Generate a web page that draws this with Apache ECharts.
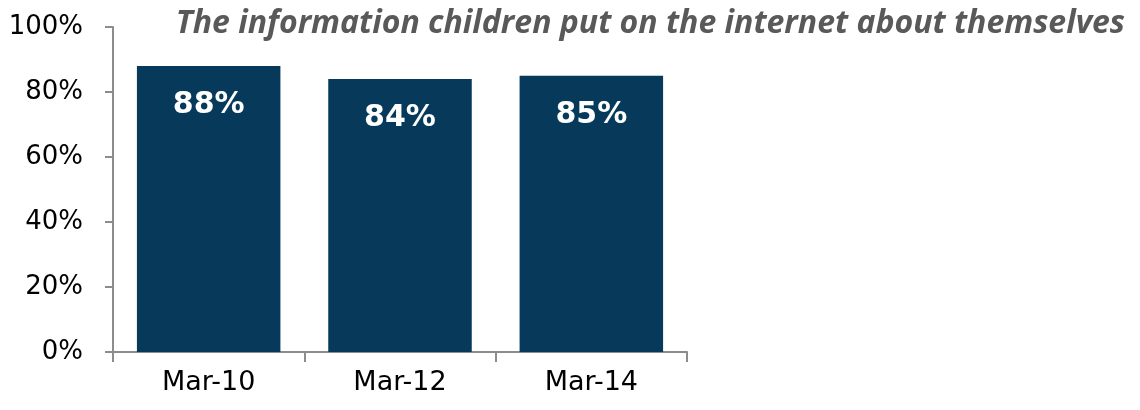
<!DOCTYPE html>
<html>
<head>
<meta charset="utf-8">
<script src="https://cdn.jsdelivr.net/npm/echarts@6/dist/echarts.min.js"></script>
<style>
  html, body { margin: 0; padding: 0; background: #fff; }
  #chart { width: 1140px; height: 410px; }
</style>
</head>
<body>
<div id="chart"></div>
<script>
var categories = ['Mar-10', 'Mar-12', 'Mar-14'];
var values = [88, 84, 85];
var titleText = 'The information children put on the internet about themselves';

var myChart = echarts.init(document.getElementById('chart'));

var option = {
    animation: false,
    title: {
        text: titleText,
        right: 10,
        top: 3,
        textStyle: {
            fontFamily: 'Open Sans',
            fontStyle: 'italic',
            fontWeight: 'bold',
            fontSize: 32,
            color: '#595959'
        }
    },
    grid: {
        left: 113,
        right: 453,
        top: 27,
        bottom: 58
    },
    xAxis: {
        type: 'category',
        data: categories,
        axisLine: { lineStyle: { color: '#8c8c8c', width: 2 } },
        axisTick: { show: true, length: 10, lineStyle: { color: '#8c8c8c', width: 2 } },
        axisLabel: {
            fontFamily: 'DejaVu Sans',
            fontSize: 27,
            color: '#000',
            margin: 17
        }
    },
    yAxis: {
        type: 'value',
        min: 0,
        max: 100,
        interval: 20,
        splitLine: { show: false },
        axisLine: { show: true, lineStyle: { color: '#8c8c8c', width: 2 } },
        axisTick: { show: true, length: 8, lineStyle: { color: '#8c8c8c', width: 2 } },
        axisLabel: {
            formatter: '{value}%',
            fontFamily: 'DejaVu Sans',
            fontSize: 26,
            color: '#000',
            margin: 30
        }
    },
    series: [{
        type: 'bar',
        data: values,
        barWidth: '75%',
        itemStyle: { color: '#073a5a' },
        label: {
            show: true,
            position: 'insideTop',
            distance: 24,
            formatter: '{c}%',
            fontFamily: 'DejaVu Sans',
            fontWeight: 'bold',
            fontSize: 30,
            color: '#fff'
        }
    }]
};

myChart.setOption(option);
</script>
</body>
</html>
